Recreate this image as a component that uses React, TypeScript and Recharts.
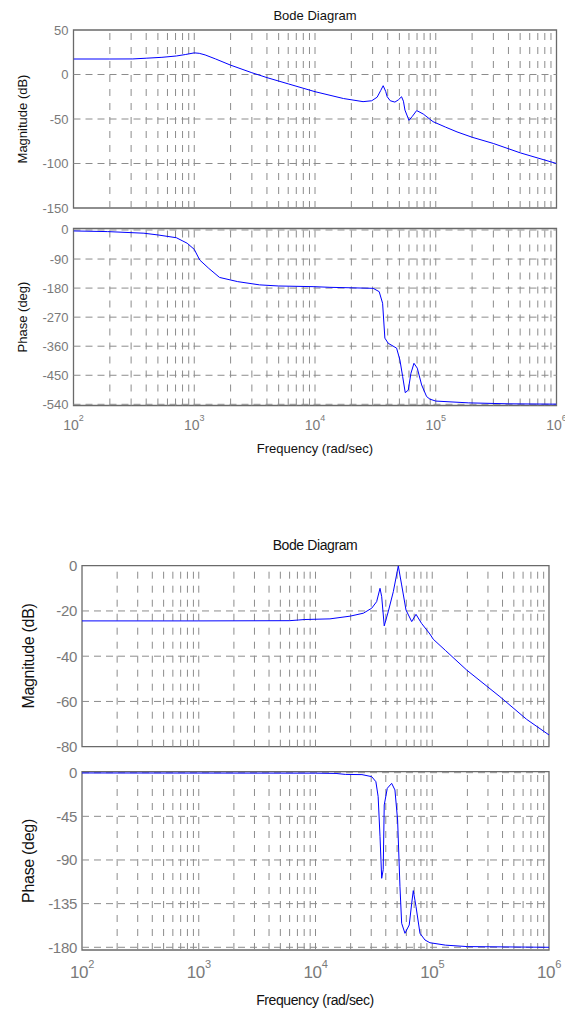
import React from "react";
import { LineChart, Line, XAxis, YAxis, ReferenceLine, ReferenceArea } from "recharts";

const FONT = '"Liberation Sans", Arial, Helvetica, sans-serif';

const decades = [100, 1000, 10000, 100000, 1000000];
const decadeExp = ["2", "3", "4", "5", "6"];

// upper figure: magnitude
const mag1Freq = [
  100, 200, 310, 400, 540, 711, 850, 1000, 1100, 1230, 1500, 2000, 3000, 4000, 6000,
  10000, 17200, 25000, 29500, 32700, 35000, 36700, 38500, 39600, 42000, 45900, 49000,
  52100, 54000, 55600, 60000, 64000, 69500, 78800, 95000, 120000, 150000, 200000,
  300000, 500000, 1000000,
];
const mag1Db = [
  17.4, 17.4, 17.5, 18.3, 19.3, 20.8, 22.5, 24.3, 23.8, 22.0, 17.5, 10.5, 2.0, -3.5, -10.5,
  -19.3, -27.0, -30.5, -29.5, -25.5, -18, -12.6, -19, -25, -29.5, -31.0, -28.5,
  -25.0, -30, -40, -51.5, -47, -40.5, -44.4, -53, -59, -64.5, -70.5,
  -77.5, -88, -100,
];
const mag1Ticks = [50, 0, -50, -100, -150];

// upper figure: phase
const phase1Freq = [
  100, 192, 383, 503, 711, 873, 1000, 1110, 1320, 1620, 2290, 3470, 5000, 9800, 13300,
  30300, 34000, 36300, 37900, 40400, 47400, 50500, 53200, 55900, 59200, 62300, 66000,
  70300, 76400, 84000, 89500, 100000, 186000, 400000, 1000000,
];
const phase1Deg = [
  -3, -5, -10, -15.5, -24, -41, -60, -93, -119, -147, -160, -170, -173.5, -175.6, -177.6,
  -180.7, -191, -227, -335, -351, -366, -403, -454, -504, -496, -444, -413,
  -428, -480, -516, -524, -530, -535.5, -538.5, -539.5,
];
const phase1Ticks = [0, -90, -180, -270, -360, -450, -540];

// lower figure: magnitude
const mag2Freq = [
  100, 1000, 6000, 7200, 8000, 13300, 19800, 25700, 30300, 33400, 35700, 36900, 38800,
  42000, 46400, 51200, 54700, 59600, 66700, 72600, 81000, 95500, 102000, 130000, 197000,
  380000, 643000, 1000000,
];
const mag2Db = [
  -24.4, -24.4, -24.3, -24.0, -23.8, -23.5, -22.3, -21.0, -18.8, -15.9, -10, -13.7, -26.6,
  -20.3, -11.5, -0.1, -8.5, -19.6, -24.7, -21.5, -25.5, -30.2, -32.5, -37.5, -46.1,
  -57.9, -67.9, -74.8,
];
const mag2Ticks = [0, -20, -40, -60, -80];

// lower figure: phase
const phase2Freq = [
  100, 10000, 15000, 18000, 25000, 30300, 32900, 34400, 35700, 36900, 38000, 38800, 41200,
  44900, 47900, 50500, 52900, 54700, 58400, 63500, 66700, 68800, 72600, 78500, 86700,
  95500, 130000, 200000, 1000000,
];
const phase2Deg = [
  -0.3, -0.5, -0.8, -1.8, -2.0, -4.1, -9.3, -24.7, -66, -108.9, -100, -33.3, -16.1,
  -11, -17.8, -48.8, -117.5, -155.3, -165.6, -157, -134.6, -121.6, -138, -165.6, -172.5,
  -175.3, -177.8, -179.3, -180,
];
const phase2Ticks = [0, -45, -90, -135, -180];

// log grid: 2..9 in every decade, plus the inner decades
const gridX: number[] = [];
for (let d = 100; d < 1000000; d *= 10) {
  for (let k = 1; k <= 9; k++) if (!(k === 1 && d === 100)) gridX.push(k * d);
}

const toRows = (f: number[], v: number[]) => f.map((x, i) => ({ f: x, v: v[i] }));

type Plot = { left: number; right: number; top: number; bottom: number };
type XOpts = { fs: number; sfs: number; base: number; rise: number };

function Panel(props: {
  top: number;
  height: number;
  plot: Plot;
  rows: { f: number; v: number }[];
  domain: [number, number];
  ticks: number[];
  yFs: number;
  yGap: number;
  x?: XOpts;
  spacing?: number;
}) {
  const { top, height, plot, rows, domain, ticks, yFs, yGap, x, spacing = 0 } = props;
  const inner = ticks.filter((t) => t > domain[0] && t < domain[1]);
  // room under the plot for the lowest y label when there is no x axis
  const pad = x ? 0 : top + height - plot.bottom;
  return (
    <div style={{ position: "absolute", left: 0, top, width: 565, height }}>
      <LineChart
        width={565}
        height={height}
        data={rows}
        margin={{ top: plot.top - top, right: 565 - plot.right, left: 0, bottom: pad }}
      >
        <XAxis
          dataKey="f"
          type="number"
          scale="log"
          domain={[100, 1000000]}
          ticks={decades}
          interval={0}
          allowDataOverflow
          hide={!x}
          height={x ? top + height - plot.bottom : 0}
          axisLine={false}
          tickLine={false}
          tickSize={0}
          tickMargin={0}
          tick={
            x
              ? (p: any) => (
                  <text
                    x={p.x}
                    y={p.y + x.base}
                    textAnchor="middle"
                    fontSize={x.fs}
                    fontFamily={FONT}
                    fill="#7a7a7a"
                    letterSpacing={spacing}
                  >
                    <tspan>10</tspan>
                    <tspan dy={-x.rise} fontSize={x.sfs}>
                      {decadeExp[decades.indexOf(p.payload.value)]}
                    </tspan>
                  </text>
                )
              : false
          }
        />
        <YAxis
          type="number"
          domain={domain}
          ticks={ticks}
          interval={0}
          allowDataOverflow
          width={plot.left}
          axisLine={false}
          tickLine={false}
          tickSize={0}
          tickMargin={0}
          tick={(p: any) => (
            <text
              x={p.x - yGap}
              y={p.y}
              textAnchor="end"
              dominantBaseline="central"
              fontSize={yFs}
              fontFamily={FONT}
              fill="#7a7a7a"
              letterSpacing={spacing}
            >
              {p.payload.value}
            </text>
          )}
        />
        {gridX.map((g) => (
          <ReferenceLine key={"x" + g} x={g} stroke="#8c8c8c" strokeWidth={1} strokeDasharray="7 7" />
        ))}
        {inner.map((t) => (
          <ReferenceLine key={"y" + t} y={t} stroke="#8c8c8c" strokeWidth={1} strokeDasharray="7 5" />
        ))}
        <ReferenceArea
          x1={100}
          x2={1000000}
          y1={domain[0]}
          y2={domain[1]}
          fill="none"
          fillOpacity={0}
          stroke="#6a6a6a"
          strokeWidth={1.3}
        />
        <Line
          dataKey="v"
          type="linear"
          stroke="#0000ff"
          strokeWidth={1}
          dot={false}
          isAnimationActive={false}
        />
      </LineChart>
    </div>
  );
}

function Label(props: { cx: number; cy: number; fs: number; rotate?: boolean; children: string; spacing?: number }) {
  const { cx, cy, fs, rotate, children, spacing = 0 } = props;
  return (
    <div
      style={{
        position: "absolute",
        left: cx,
        top: cy,
        transform: `translate(-50%, -50%)${rotate ? " rotate(-90deg)" : ""}`,
        fontSize: fs,
        lineHeight: 1,
        whiteSpace: "nowrap",
        color: "#111",
        fontFamily: FONT,
        letterSpacing: spacing,
      }}
    >
      {children}
    </div>
  );
}

export default function App() {
  const p1: Plot = { left: 73.5, right: 556.5, top: 30, bottom: 208 };
  const p2: Plot = { left: 73.5, right: 556.5, top: 228.5, bottom: 405.5 };
  const p3: Plot = { left: 82, right: 549, top: 565.7, bottom: 746.7 };
  const p4: Plot = { left: 82, right: 549, top: 771.7, bottom: 950 };
  return (
    <div
      style={{
        position: "absolute",
        left: 0,
        top: 0,
        width: 565,
        height: 1011,
        background: "#fff",
        overflow: "hidden",
        fontFamily: FONT,
      }}
    >
      <Panel top={20} height={198} plot={p1} rows={toRows(mag1Freq, mag1Db)} domain={[-150, 50]} ticks={mag1Ticks} yFs={13} yGap={5} />
      <Panel
        top={220}
        height={220}
        plot={p2}
        rows={toRows(phase1Freq, phase1Deg)}
        domain={[-543.7, 4.6]}
        ticks={phase1Ticks}
        yFs={13}
        yGap={5}
        x={{ fs: 14, sfs: 9, base: 24.5, rise: 9 }}
      />
      <Panel top={555} height={203.7} plot={p3} rows={toRows(mag2Freq, mag2Db)} domain={[-80, 0]} ticks={mag2Ticks} yFs={15} yGap={5} spacing={-0.3} />
      <Panel
        top={760}
        height={250}
        plot={p4}
        rows={toRows(phase2Freq, phase2Deg)}
        domain={[-182.8, 1]}
        ticks={phase2Ticks}
        yFs={15}
        yGap={5}
        spacing={-0.3}
        x={{ fs: 17, sfs: 11, base: 28, rise: 10 }}
      />

      <Label cx={315} cy={15} fs={13}>Bode Diagram</Label>
      <Label cx={22} cy={119} fs={13} rotate>Magnitude (dB)</Label>
      <Label cx={22} cy={317} fs={13} rotate>Phase (deg)</Label>
      <Label cx={315} cy={448} fs={13}>Frequency (rad/sec)</Label>

      <Label cx={315} cy={545} fs={14} spacing={-0.4}>Bode Diagram</Label>
      <Label cx={29} cy={656} fs={16} rotate spacing={-0.3}>Magnitude (dB)</Label>
      <Label cx={29} cy={861} fs={16} rotate spacing={-0.3}>Phase (deg)</Label>
      <Label cx={315} cy={1000} fs={14} spacing={-0.4}>Frequency (rad/sec)</Label>
    </div>
  );
}
